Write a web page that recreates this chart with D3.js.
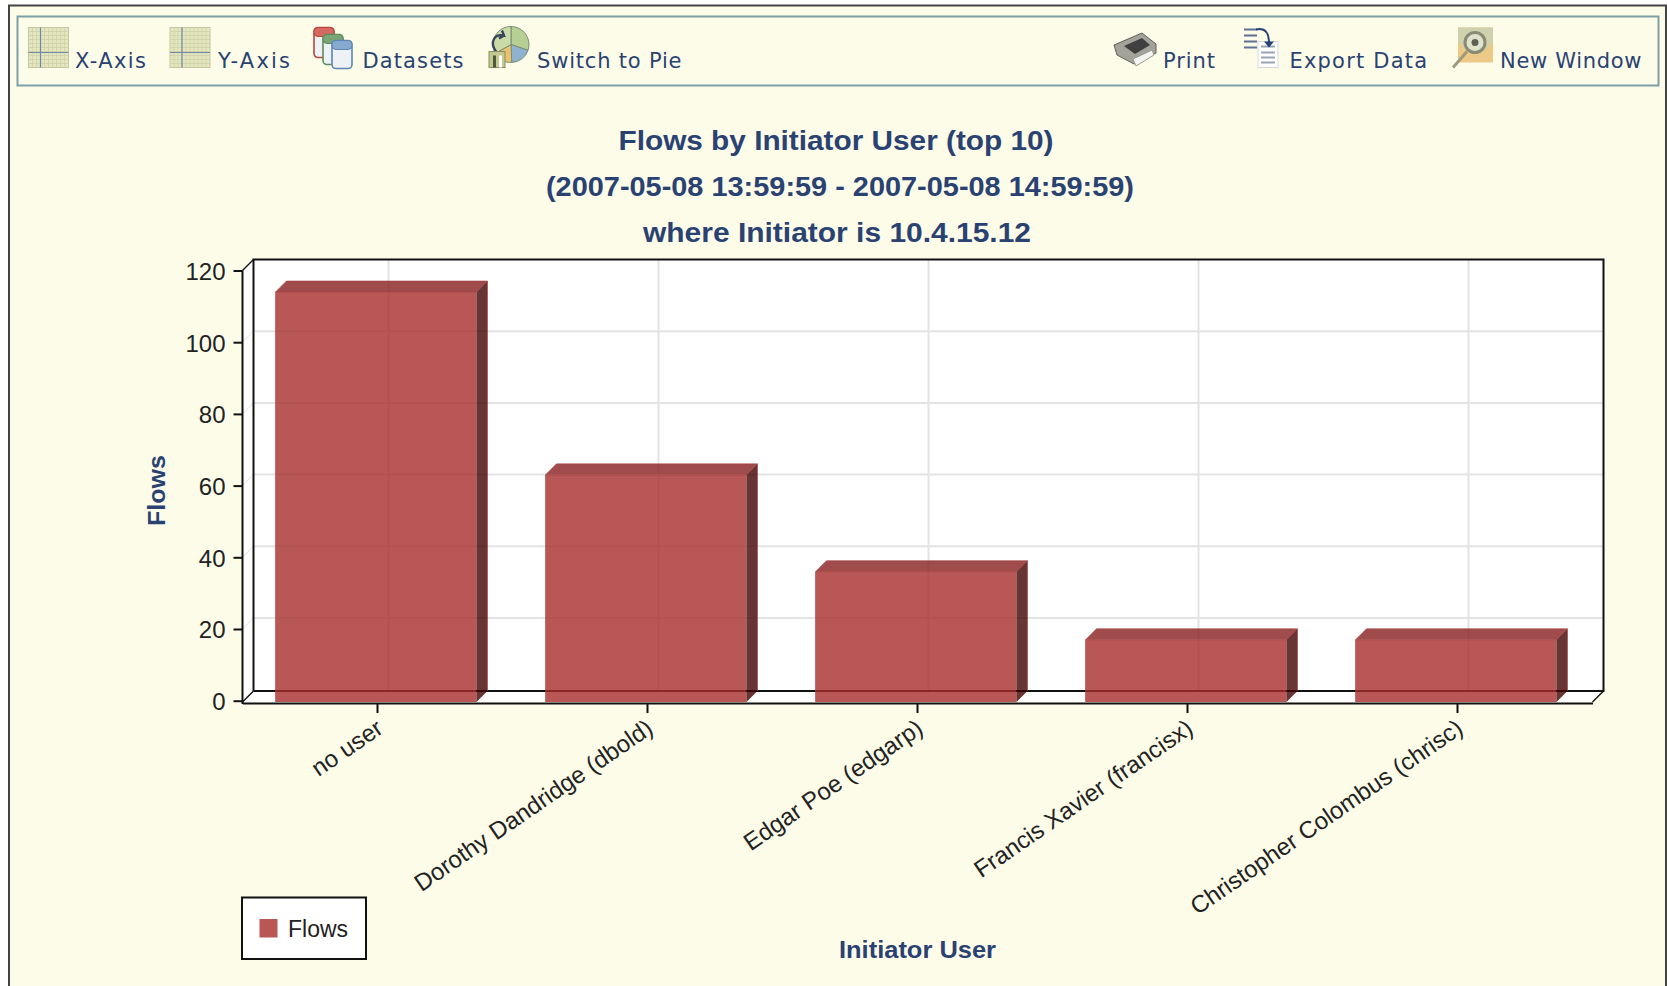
<!DOCTYPE html>
<html>
<head>
<meta charset="utf-8">
<title>Flows by Initiator User</title>
<script src="https://cdn.jsdelivr.net/npm/d3@7"></script>
<style>
  html, body { margin: 0; padding: 0; background: #ffffff; overflow: hidden; }
  svg { display: block; }
</style>
</head>
<body>
<svg id="chart" width="1667" height="986"></svg>
<script>
// Chart content
const categories = ["no user", "Dorothy Dandridge (dbold)", "Edgar Poe (edgarp)", "Francis Xavier (francisx)", "Christopher Colombus (chrisc)"];
const flows = [114, 63, 36, 17, 17];
const yTicks = [0, 20, 40, 60, 80, 100, 120];
const titleLines = ["Flows by Initiator User (top 10)", "(2007-05-08 13:59:59 - 2007-05-08 14:59:59)", "where Initiator is 10.4.15.12"];
const seriesName = "Flows";
const xAxisTitle = "Initiator User";
const toolbarLabels = ["X-Axis", "Y-Axis", "Datasets", "Switch to Pie", "Print", "Export Data", "New Window"];

// Layout
const W = 1667, H = 986;
const depthX = 11, depthY = 11;
const plot = { left: 242.5, right: 1592.5, top: 270.5, zero: 700.7, bottom: 702 };
const barShift = -1.5;
const NAVY = "#2a4272", PAGE = "#fdfce9", INK = "#222222";
const SANS = "'Liberation Sans', Arial, sans-serif";
const TOOLBAR_FONT = "'DejaVu Sans', sans-serif";

const svg = d3.select("#chart");
const x = d3.scaleBand().domain(categories).range([plot.left, plot.right]).paddingInner(0.2556).paddingOuter(0.1278);
const y = d3.scaleLinear().domain([0, 120]).range([plot.zero, plot.top]);

// Panel and toolbar frame
svg.append("rect").attr("x", 9).attr("y", 5.5).attr("width", W + 10).attr("height", H + 10)
  .attr("fill", PAGE).attr("stroke", "#444444").attr("stroke-width", 2);
svg.append("line").attr("x1", 1666).attr("x2", 1666).attr("y1", 5).attr("y2", H).attr("stroke", "#444444").attr("stroke-width", 2);
svg.append("rect").attr("x", 17.5).attr("y", 16.5).attr("width", 1641).attr("height", 69)
  .attr("fill", "none").attr("stroke", "#7f9fa8").attr("stroke-width", 2);

// Toolbar icons
function gridIcon(g) {
  g.append("rect").attr("width", 40).attr("height", 40).attr("fill", "#e4e6bd").attr("stroke", "#c4c7a2").attr("stroke-width", 1);
  d3.range(4, 40, 4).forEach(d => {
    g.append("line").attr("x1", d).attr("x2", d).attr("y1", 0).attr("y2", 40).attr("stroke", "#cdd0aa").attr("stroke-width", 0.8);
    g.append("line").attr("y1", d).attr("y2", d).attr("x1", 0).attr("x2", 40).attr("stroke", "#cdd0aa").attr("stroke-width", 0.8);
  });
  g.append("line").attr("x1", 12).attr("x2", 12).attr("y1", 0).attr("y2", 40).attr("stroke", "#7187a8").attr("stroke-width", 1.2);
  g.append("line").attr("x1", 0).attr("x2", 40).attr("y1", 25).attr("y2", 25).attr("stroke", "#7187a8").attr("stroke-width", 1.2);
}
function cylinder(g, cx, cy, w, h, body, rim) {
  g.append("rect").attr("x", cx).attr("y", cy).attr("width", w).attr("height", h).attr("rx", 4)
    .attr("fill", "#eef2f6").attr("stroke", body).attr("stroke-width", 1.6);
  g.append("rect").attr("x", cx).attr("y", cy).attr("width", w).attr("height", 9).attr("rx", 4)
    .attr("fill", rim).attr("stroke", body).attr("stroke-width", 1);
}
function datasetsIcon(g) {
  cylinder(g, 0, 0, 20, 30, "#b5473f", "#d4695f");
  cylinder(g, 9, 7, 20, 30, "#5f8a5a", "#7aa574");
  cylinder(g, 18, 13, 20, 28, "#5c84b5", "#86a9cf");
}
function pieIcon(g) {
  const arc = d3.arc().innerRadius(0).outerRadius(18);
  [[0, 1.9, "#b8cf93"], [1.9, 3.1, "#8fb3cf"], [3.1, 4.2, "#e9c26f"], [4.2, 6.2832, "#c9dca8"]].forEach(s => {
    g.append("path").attr("transform", "translate(22,17)")
      .attr("d", arc({ startAngle: s[0], endAngle: s[1] }))
      .attr("fill", s[2]).attr("stroke", "#7d8c78").attr("stroke-width", 1);
  });
  g.append("path").attr("d", "M7,24 C0,14 6,6 15,8 L13,3 M15,8 L10,11").attr("fill", "none").attr("stroke", "#39465c").attr("stroke-width", 2.4);
  g.append("rect").attr("x", 0).attr("y", 24).attr("width", 16).attr("height", 16).attr("fill", "#c4c98f").attr("stroke", "#8a8d66");
  g.append("rect").attr("x", 4).attr("y", 28).attr("width", 3).attr("height", 12).attr("fill", "#4b5a3d");
  g.append("rect").attr("x", 10).attr("y", 28).attr("width", 3).attr("height", 12).attr("fill", "#ffffff");
}
function printIcon(g) {
  g.append("path").attr("d", "M0,14 L28,2 L42,13 L42,22 L20,33 L3,24 Z").attr("fill", "#a3a39c").attr("stroke", "#5f5f5a");
  g.append("path").attr("d", "M10,15 L28,7 L36,14 L21,23 Z").attr("fill", "#3f3f3f");
  g.append("path").attr("d", "M19,28 L38,19 L40,24 L22,35 Z").attr("fill", "#f4f4f0").attr("stroke", "#9a9a94");
}
function exportIcon(g) {
  g.append("rect").attr("x", 14).attr("y", 14).attr("width", 20).attr("height", 26).attr("fill", "#ffffff").attr("stroke", "#d5d8de");
  [19, 25, 30, 35].forEach(d => g.append("line").attr("x1", 17).attr("x2", 31).attr("y1", d).attr("y2", d).attr("stroke", "#9aa3b4").attr("stroke-width", 2));
  [2, 8, 14, 20].forEach(d => g.append("line").attr("x1", 0).attr("x2", 13).attr("y1", d).attr("y2", d).attr("stroke", "#5f7095").attr("stroke-width", 2));
  g.append("path").attr("d", "M12,2 C22,0 25,6 25,16").attr("fill", "none").attr("stroke", "#2a4272").attr("stroke-width", 2);
  g.append("path").attr("d", "M20,14 L30,14 L25,20 Z").attr("fill", "#2a4272");
}
function windowIcon(g) {
  g.append("rect").attr("x", 5).attr("y", 0).attr("width", 35).attr("height", 35).attr("fill", "#ecc987");
  g.append("path").attr("d", "M5,0 H40 V14 L30,24 L14,24 L5,14 Z").attr("fill", "#cfd2ac");
  g.append("line").attr("x1", 14).attr("y1", 24).attr("x2", 0).attr("y2", 40).attr("stroke", "#a09a7e").attr("stroke-width", 3);
  g.append("circle").attr("cx", 22).attr("cy", 15).attr("r", 10).attr("fill", "#dfe3cc").attr("stroke", "#8a8b74").attr("stroke-width", 3);
  g.append("circle").attr("cx", 22).attr("cy", 15).attr("r", 3.5).attr("fill", "#5f6052");
}

// One entry per toolbar button, in the order of toolbarLabels
const toolbarLayout = [
  { icon: gridIcon, ix: 28.5, iy: 27.5, tx: 75, tw: 71 },
  { icon: gridIcon, ix: 170, iy: 27.5, tx: 218, tw: 72 },
  { icon: datasetsIcon, ix: 314, iy: 27.5, tx: 362.5, tw: 101 },
  { icon: pieIcon, ix: 489, iy: 27.5, tx: 537, tw: 144.5 },
  { icon: printIcon, ix: 1114, iy: 31, tx: 1163, tw: 52 },
  { icon: exportIcon, ix: 1244, iy: 27.5, tx: 1289.5, tw: 137.5 },
  { icon: windowIcon, ix: 1453, iy: 27.5, tx: 1500, tw: 141.5 }
];
const toolbar = svg.append("g").attr("class", "toolbar");
toolbarLabels.forEach((label, i) => {
  const item = toolbarLayout[i];
  item.icon(toolbar.append("g").attr("transform", `translate(${item.ix},${item.iy})`));
  toolbar.append("text").attr("x", item.tx).attr("y", 68).text(label)
    .attr("font-family", TOOLBAR_FONT).attr("font-size", 21).attr("fill", NAVY)
    .attr("textLength", item.tw).attr("lengthAdjust", "spacing");
});

// Chart title
const titleMetrics = [{ base: 150, w: 435 }, { base: 196, w: 588 }, { base: 241.5, w: 388 }];
svg.append("g").selectAll("text").data(titleLines).join("text")
  .attr("x", (d, i) => i === 2 ? 837 : (i === 1 ? 840 : 836))
  .attr("y", (d, i) => titleMetrics[i].base)
  .attr("text-anchor", "middle")
  .attr("font-family", SANS).attr("font-weight", "bold").attr("font-size", 27).attr("fill", NAVY)
  .attr("textLength", (d, i) => titleMetrics[i].w).attr("lengthAdjust", "spacingAndGlyphs")
  .text(d => d);

// Plot walls: back wall plus the slanted left wall and floor
const backLeft = plot.left + depthX, backRight = plot.right + depthX;
const backTop = plot.top - depthY, backBottom = plot.bottom - depthY;
svg.append("path")
  .attr("d", `M${plot.left},${plot.top} L${backLeft},${backTop} H${backRight} V${backBottom} L${plot.right},${plot.bottom} H${plot.left} Z`)
  .attr("fill", "#ffffff");

// Grid lines on the back wall and their continuation on the left wall
const grid = svg.append("g").attr("stroke", "#e3e3e3").attr("stroke-width", 2);
grid.selectAll(".h").data(yTicks.slice(1, -1)).join("line").attr("class", "h")
  .attr("x1", backLeft).attr("x2", backRight)
  .attr("y1", d => y(d) - depthY).attr("y2", d => y(d) - depthY);
grid.selectAll(".d").data(yTicks.slice(1, -1)).join("line").attr("class", "d")
  .attr("x1", plot.left).attr("x2", backLeft)
  .attr("y1", d => y(d)).attr("y2", d => y(d) - depthY).attr("stroke-width", 1);
grid.selectAll(".v").data(categories).join("line").attr("class", "v")
  .attr("x1", d => x(d) + x.bandwidth() / 2 + depthX).attr("x2", d => x(d) + x.bandwidth() / 2 + depthX)
  .attr("y1", backTop).attr("y2", backBottom);

// Back edges of the plot box
const edge = svg.append("g").attr("stroke", "#111111").attr("fill", "none");
edge.append("path").attr("stroke-width", 2)
  .attr("d", `M${backLeft},${backBottom} V${backTop} H${backRight} V${backBottom} H${backLeft}`);
edge.append("path").attr("stroke-width", 1.4)
  .attr("d", `M${plot.left},${plot.top} L${backLeft},${backTop} M${plot.left},${plot.bottom} L${backLeft},${backBottom} M${plot.right},${plot.bottom} L${backRight},${backBottom}`);

// Bars: translucent front, top and side faces, standing on the front edge of the floor
const FACE = "#a82c2c", TOP = "#881f1f", SIDE = "#420202", ALPHA = 0.8;
const barLeft = d => x(d) + barShift;
const bars = svg.append("g").selectAll("g").data(categories).join("g");
bars.append("rect")
  .attr("x", barLeft)
  .attr("y", (d, i) => y(flows[i]))
  .attr("width", x.bandwidth())
  .attr("height", (d, i) => plot.bottom - y(flows[i]))
  .attr("fill", FACE).attr("fill-opacity", ALPHA);
bars.append("path")
  .attr("d", (d, i) => {
    const l = barLeft(d), r = l + x.bandwidth(), t = y(flows[i]);
    return `M${l},${t} L${l + depthX},${t - depthY} H${r + depthX} L${r},${t} Z`;
  })
  .attr("fill", TOP).attr("fill-opacity", ALPHA);
bars.append("path")
  .attr("d", (d, i) => {
    const r = barLeft(d) + x.bandwidth(), t = y(flows[i]);
    return `M${r},${t} L${r + depthX},${t - depthY} V${plot.bottom - depthY} L${r},${plot.bottom} Z`;
  })
  .attr("fill", SIDE).attr("fill-opacity", ALPHA);
// A thin red rim around each bar's silhouette
bars.append("path")
  .attr("d", (d, i) => {
    const l = barLeft(d), r = l + x.bandwidth(), t = y(flows[i]);
    return `M${l},${plot.bottom} V${t} L${l + depthX},${t - depthY} H${r + depthX} V${plot.bottom - depthY} M${l},${t} H${r} L${r + depthX},${t - depthY}`;
  })
  .attr("fill", "none").attr("stroke", "#a83a3a").attr("stroke-opacity", 0.55).attr("stroke-width", 1);

// Y axis; its vertical line runs down to the front edge of the floor
const yAxis = svg.append("g").attr("transform", `translate(${plot.left},0)`)
  .call(d3.axisLeft(y).tickValues(yTicks).tickSize(9).tickSizeOuter(0).tickPadding(8).tickFormat(d3.format("d")));
yAxis.select(".domain").remove();
yAxis.selectAll(".tick line").attr("stroke", "#111111").attr("stroke-width", 2);
yAxis.selectAll(".tick text").attr("font-family", SANS).attr("font-size", 24).attr("fill", INK).attr("dy", "0.37em");
svg.append("line").attr("x1", plot.left).attr("x2", plot.left).attr("y1", plot.top).attr("y2", plot.bottom + 2)
  .attr("stroke", "#111111").attr("stroke-width", 2);

// X axis, drawn along the front edge of the floor
const xAxis = svg.append("g").attr("transform", `translate(0,${plot.bottom + 1})`)
  .call(d3.axisBottom(x).tickSize(10).tickSizeOuter(0).tickPadding(0));
xAxis.select(".domain").attr("stroke", "#111111").attr("stroke-width", 2);
xAxis.selectAll(".tick line").attr("stroke", "#111111").attr("stroke-width", 2);
xAxis.selectAll(".tick text")
  .attr("font-family", SANS).attr("font-size", 24).attr("fill", INK)
  .attr("text-anchor", "end").attr("dy", null)
  .attr("transform", "translate(7,29) rotate(-34.5)")
  .attr("x", 0).attr("y", 0);

// Axis titles
svg.append("text").attr("x", x(categories[2]) + x.bandwidth() / 2).attr("y", 958)
  .attr("text-anchor", "middle").attr("font-family", SANS).attr("font-weight", "bold").attr("font-size", 24).attr("fill", NAVY)
  .attr("textLength", 157).attr("lengthAdjust", "spacingAndGlyphs")
  .text(xAxisTitle);
svg.append("text").attr("transform", "translate(165,490.5) rotate(-90)")
  .attr("text-anchor", "middle").attr("font-family", SANS).attr("font-weight", "bold").attr("font-size", 24).attr("fill", NAVY)
  .attr("textLength", 71).attr("lengthAdjust", "spacingAndGlyphs")
  .text(seriesName);

// Legend
const legend = svg.append("g");
legend.append("rect").attr("x", 242).attr("y", 897.5).attr("width", 124).attr("height", 61.5)
  .attr("fill", "#ffffff").attr("stroke", "#111111").attr("stroke-width", 2);
legend.append("rect").attr("x", 259.5).attr("y", 919).attr("width", 18).attr("height", 18.5)
  .attr("fill", FACE).attr("fill-opacity", ALPHA);
legend.append("text").attr("x", 288).attr("y", 936.5)
  .attr("font-family", SANS).attr("font-size", 23).attr("fill", INK).text(seriesName);
</script>
</body>
</html>
